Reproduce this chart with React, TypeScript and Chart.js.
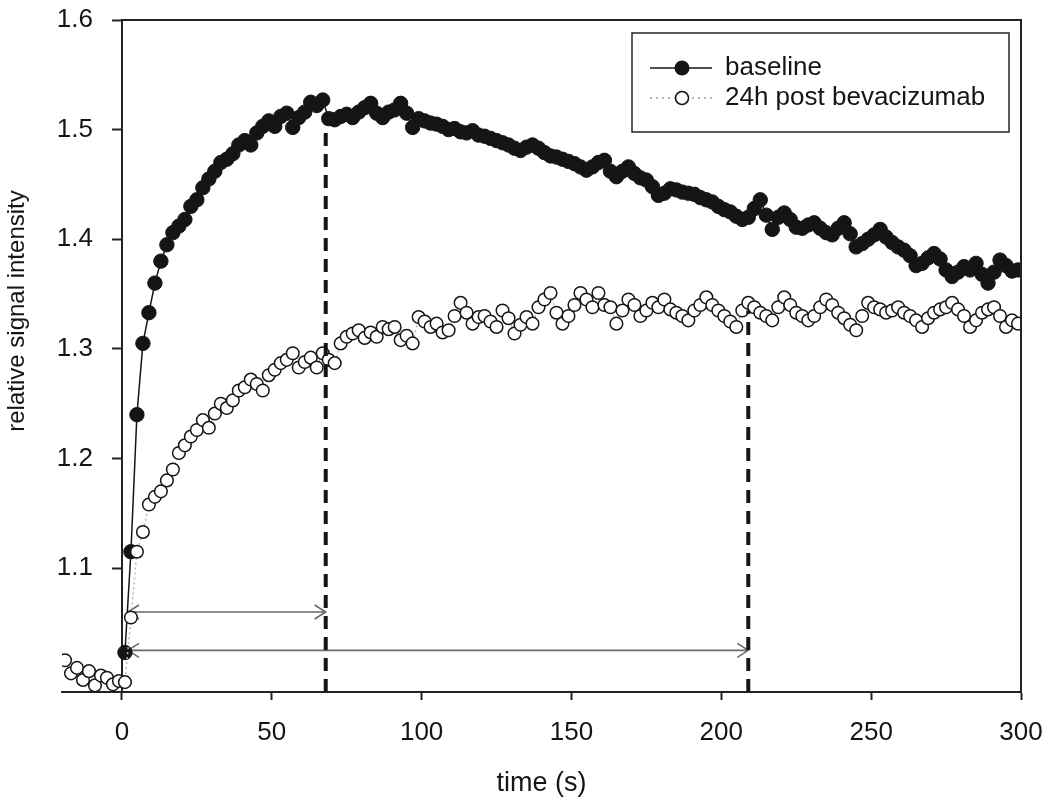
import React, { useEffect, useRef } from "react";
import { Chart, registerables } from "chart.js";

Chart.register(...registerables);

// ---------- data ----------
const preContrastTimes = [-19, -17, -15, -13, -11, -9, -7, -5, -3, -1];

const sampleTimes = [
  1, 3, 5, 7, 9, 11, 13, 15, 17, 19,
  21, 23, 25, 27, 29, 31, 33, 35, 37, 39,
  41, 43, 45, 47, 49, 51, 53, 55, 57, 59,
  61, 63, 65, 67, 69, 71, 73, 75, 77, 79,
  81, 83, 85, 87, 89, 91, 93, 95, 97, 99,
  101, 103, 105, 107, 109, 111, 113, 115, 117, 119,
  121, 123, 125, 127, 129, 131, 133, 135, 137, 139,
  141, 143, 145, 147, 149, 151, 153, 155, 157, 159,
  161, 163, 165, 167, 169, 171, 173, 175, 177, 179,
  181, 183, 185, 187, 189, 191, 193, 195, 197, 199,
  201, 203, 205, 207, 209, 211, 213, 215, 217, 219,
  221, 223, 225, 227, 229, 231, 233, 235, 237, 239,
  241, 243, 245, 247, 249, 251, 253, 255, 257, 259,
  261, 263, 265, 267, 269, 271, 273, 275, 277, 279,
  281, 283, 285, 287, 289, 291, 293, 295, 297, 299,
];

const baselineValues = [
  1.023, 1.115, 1.24, 1.305, 1.333, 1.36, 1.38, 1.395, 1.406, 1.412,
  1.418, 1.43, 1.436, 1.447, 1.455, 1.462, 1.47, 1.473, 1.478, 1.486,
  1.49, 1.486, 1.497, 1.503, 1.508, 1.503, 1.512, 1.515, 1.502, 1.511,
  1.516, 1.525, 1.522, 1.527, 1.51, 1.509, 1.512, 1.514, 1.511, 1.516,
  1.52, 1.524, 1.515, 1.511, 1.516, 1.518, 1.524, 1.515, 1.502, 1.51,
  1.508, 1.506, 1.505, 1.503, 1.5, 1.501, 1.498, 1.497, 1.499, 1.495,
  1.494, 1.492, 1.49, 1.488, 1.486, 1.483, 1.481, 1.484, 1.486, 1.483,
  1.479, 1.476, 1.475, 1.473, 1.471, 1.469, 1.466, 1.463, 1.466, 1.47,
  1.472, 1.462, 1.457, 1.462, 1.466, 1.46, 1.456, 1.454, 1.448, 1.44,
  1.442, 1.446, 1.445, 1.443, 1.442, 1.441, 1.438, 1.436, 1.434, 1.43,
  1.427, 1.425, 1.421, 1.418, 1.42, 1.428, 1.436, 1.422, 1.409, 1.42,
  1.424, 1.418, 1.411, 1.41, 1.413, 1.415, 1.41, 1.406, 1.404, 1.41,
  1.415, 1.405, 1.393, 1.396, 1.4, 1.404, 1.409, 1.402, 1.397, 1.393,
  1.39, 1.385, 1.376, 1.378, 1.383, 1.387, 1.382, 1.372, 1.366, 1.37,
  1.375, 1.372, 1.378, 1.368, 1.36, 1.37, 1.381, 1.376, 1.371, 1.372,
];

const postPreValues = [1.016, 1.004, 1.009, 0.998, 1.006, 0.993, 1.002, 1.0, 0.994, 0.997];

const postValues = [
  0.996, 1.055, 1.115, 1.133, 1.158, 1.165, 1.17, 1.18, 1.19, 1.205,
  1.212, 1.22, 1.226, 1.235, 1.228, 1.241, 1.25, 1.246, 1.253, 1.262,
  1.265, 1.272, 1.268, 1.262, 1.276, 1.281, 1.287, 1.29, 1.296, 1.283,
  1.288, 1.292, 1.283, 1.296, 1.29, 1.287, 1.305, 1.311, 1.314, 1.317,
  1.31, 1.315, 1.311, 1.32, 1.318, 1.32, 1.308, 1.312, 1.305, 1.329,
  1.325, 1.32, 1.323, 1.315, 1.317, 1.33, 1.342, 1.333, 1.323, 1.329,
  1.33, 1.325, 1.32, 1.335, 1.328, 1.314, 1.322, 1.329, 1.323, 1.338,
  1.345, 1.351, 1.333, 1.323, 1.33, 1.34, 1.351, 1.345, 1.338, 1.351,
  1.34, 1.338, 1.323, 1.335, 1.345, 1.34, 1.33, 1.335, 1.342, 1.338,
  1.345, 1.336, 1.333, 1.33, 1.326, 1.335, 1.34, 1.347, 1.34, 1.335,
  1.33, 1.325, 1.32, 1.335, 1.342, 1.338, 1.333, 1.33, 1.326, 1.338,
  1.347, 1.34, 1.333, 1.33, 1.326, 1.33, 1.338, 1.345, 1.34, 1.333,
  1.328, 1.322, 1.317, 1.33, 1.342, 1.338, 1.336, 1.333, 1.335, 1.338,
  1.333, 1.33, 1.326, 1.32, 1.328, 1.333, 1.336, 1.338, 1.342, 1.336,
  1.33, 1.32, 1.326, 1.333, 1.336, 1.338, 1.33, 1.32, 1.326, 1.323,
];

const seriesLabels = ["baseline", "24h post bevacizumab"];
const xTickValues = [0, 50, 100, 150, 200, 250, 300];
const yTickValues = [1.1, 1.2, 1.3, 1.4, 1.5, 1.6];
const X_MIN = -20;
const X_MAX = 300;
const Y_MIN = 0.987;
const Y_MAX = 1.6;

// dashed vertical markers (time, top value)
const markerTimes = [68, 209];
const markerTops = [1.512, 1.335];

// double-headed arrows (start time, end time, level)
const arrowStarts = [2, 2];
const arrowEnds = [68, 209];
const arrowLevels = [1.06, 1.025];

const xTitle = "time (s)";
const yTitle = "relative signal intensity";

const FONT = '"Liberation Sans", Arial, Helvetica, sans-serif';
const INK = "#151515";

// ---------- custom drawing plugin ----------
const decorPlugin = {
  id: "decor",
  afterLayout(chart: any) {
    const xs = chart.scales.x;
    const ys = chart.scales.y;
    ys.left = 0;
    ys.right = xs.getPixelForValue(0);
  },
  beforeDatasetsDraw(chart: any) {
    const { ctx } = chart;
    const xs = chart.scales.x;
    const ys = chart.scales.y;
    ctx.save();
    ctx.strokeStyle = "#6a6a6a";
    ctx.lineWidth = 1.6;
    for (let i = 0; i < arrowStarts.length; i++) {
      const x1 = xs.getPixelForValue(arrowStarts[i]);
      const x2 = xs.getPixelForValue(arrowEnds[i]);
      const y = ys.getPixelForValue(arrowLevels[i]);
      ctx.beginPath();
      ctx.moveTo(x1, y);
      ctx.lineTo(x2, y);
      ctx.moveTo(x2 - 11, y - 7);
      ctx.lineTo(x2, y);
      ctx.lineTo(x2 - 11, y + 7);
      ctx.moveTo(x1 + 11, y - 7);
      ctx.lineTo(x1, y);
      ctx.lineTo(x1 + 11, y + 7);
      ctx.stroke();
    }
    ctx.restore();
  },
  afterDraw(chart: any) {
    const { ctx, chartArea } = chart;
    const xs = chart.scales.x;
    const x0 = xs.getPixelForValue(0);
    ctx.save();
    ctx.strokeStyle = "#222";
    ctx.lineWidth = 2;
    ctx.beginPath();
    ctx.moveTo(x0, chartArea.top);
    ctx.lineTo(chartArea.right, chartArea.top);
    ctx.lineTo(chartArea.right, chartArea.bottom);
    ctx.stroke();

    ctx.fillStyle = INK;
    ctx.font = `24px ${FONT}`;
    ctx.textAlign = "center";
    ctx.textBaseline = "middle";
    ctx.translate(17, 311);
    ctx.rotate(-Math.PI / 2);
    ctx.fillText(yTitle, 0, 0);
    ctx.setTransform(1, 0, 0, 1, 0, 0);

    const bx = 632, by = 33, bw = 377, bh = 99;
    ctx.fillStyle = "#fff";
    ctx.fillRect(bx, by, bw, bh);
    ctx.strokeStyle = "#333";
    ctx.lineWidth = 1.6;
    ctx.strokeRect(bx, by, bw, bh);

    const rows = [68, 98];
    ctx.strokeStyle = INK;
    ctx.lineWidth = 1.6;
    ctx.setLineDash([]);
    ctx.beginPath();
    ctx.moveTo(650, rows[0]);
    ctx.lineTo(712, rows[0]);
    ctx.stroke();
    ctx.fillStyle = INK;
    ctx.beginPath();
    ctx.arc(682, rows[0], 7.5, 0, Math.PI * 2);
    ctx.fill();

    ctx.strokeStyle = "#b8b8b8";
    ctx.lineWidth = 2;
    ctx.setLineDash([2, 4]);
    ctx.beginPath();
    ctx.moveTo(650, rows[1]);
    ctx.lineTo(714, rows[1]);
    ctx.stroke();
    ctx.setLineDash([]);
    ctx.fillStyle = "#fff";
    ctx.strokeStyle = INK;
    ctx.lineWidth = 1.6;
    ctx.beginPath();
    ctx.arc(682, rows[1], 6.5, 0, Math.PI * 2);
    ctx.fill();
    ctx.stroke();

    ctx.fillStyle = INK;
    ctx.font = `26px ${FONT}`;
    ctx.textAlign = "left";
    ctx.textBaseline = "middle";
    ctx.fillText(seriesLabels[0], 725, rows[0]);
    ctx.fillText(seriesLabels[1], 725, rows[1]);
    ctx.restore();
  },
};

export default function App() {
  const canvasRef = useRef<HTMLCanvasElement | null>(null);

  useEffect(() => {
    document.body.style.margin = "0";
    const canvas = canvasRef.current;
    if (!canvas) return;

    const baselineData = sampleTimes.map((t, i) => ({ x: t, y: baselineValues[i] }));
    const postTimes = [...preContrastTimes, ...sampleTimes];
    const postAll = [...postPreValues, ...postValues];
    const postData = postTimes.map((t, i) => ({ x: t, y: postAll[i] }));

    const markerSets = markerTimes.map((t, i) => ({
      label: "marker" + i,
      data: [
        { x: t, y: Y_MIN },
        { x: t, y: markerTops[i] },
      ],
      borderColor: INK,
      borderWidth: 4,
      borderDash: [13, 8],
      borderCapStyle: "butt",
      pointRadius: 0,
      order: 0,
    }));

    const chart = new Chart(canvas, {
      type: "line",
      data: {
        datasets: [
          {
            label: seriesLabels[0],
            data: baselineData,
            borderColor: INK,
            borderWidth: 1.5,
            pointRadius: 7.2,
            pointBackgroundColor: INK,
            pointBorderColor: INK,
            pointBorderWidth: 1,
            tension: 0,
            order: 2,
          },
          {
            label: seriesLabels[1],
            data: postData,
            borderColor: "#b8b8b8",
            borderWidth: 1.5,
            borderDash: [2, 3],
            pointRadius: 6.3,
            pointBackgroundColor: "#ffffff",
            pointBorderColor: INK,
            pointBorderWidth: 1.5,
            tension: 0,
            order: 1,
          },
          ...markerSets,
        ] as any,
      },
      options: {
        responsive: false,
        animation: false,
        devicePixelRatio: 1,
        layout: { autoPadding: false, padding: { top: 20, right: 29, bottom: 0, left: 0 } },
        plugins: {
          legend: { display: false },
          tooltip: { enabled: false },
        },
        scales: {
          x: {
            type: "linear",
            min: X_MIN,
            max: X_MAX,
            afterBuildTicks: (s: any) => {
              s.ticks = xTickValues.map((v) => ({ value: v }));
            },
            afterFit: (s: any) => {
              s.height = 111;
              s.paddingLeft = 0;
              s.paddingRight = 0;
              s.paddingTop = 0;
              s.paddingBottom = 0;
            },
            grid: {
              drawOnChartArea: false,
              drawTicks: true,
              tickLength: 8,
              tickWidth: 2,
              tickColor: "#222",
            },
            border: { display: true, color: "#222", width: 2 },
            ticks: {
              color: INK,
              font: { family: FONT, size: 26 },
              padding: 17,
              maxRotation: 0,
              autoSkip: false,
              callback: (v: any) => String(v),
            },
            title: {
              display: true,
              text: xTitle,
              color: INK,
              font: { family: FONT, size: 27 },
              padding: { top: 0, bottom: 3 },
            },
          },
          y: {
            type: "linear",
            position: "left",
            min: Y_MIN,
            max: Y_MAX,
            afterBuildTicks: (s: any) => {
              s.ticks = yTickValues.map((v) => ({ value: v }));
            },
            afterFit: (s: any) => {
              s.width = 62;
              s.paddingLeft = 0;
              s.paddingRight = 0;
              s.paddingTop = 0;
              s.paddingBottom = 0;
            },
            grid: {
              drawOnChartArea: false,
              drawTicks: true,
              tickLength: 10,
              tickWidth: 2,
              tickColor: "#222",
            },
            border: { display: true, color: "#222", width: 2 },
            ticks: {
              color: INK,
              font: { family: FONT, size: 26 },
              padding: 19,
              autoSkip: false,
              callback: (v: any) => Number(v).toFixed(1),
            },
            title: { display: false },
          },
        },
      } as any,
      plugins: [decorPlugin as any],
    });

    return () => chart.destroy();
  }, []);

  return (
    <div style={{ width: 1050, height: 803 }}>
      <canvas ref={canvasRef} width={1050} height={803} style={{ display: "block" }} />
    </div>
  );
}
